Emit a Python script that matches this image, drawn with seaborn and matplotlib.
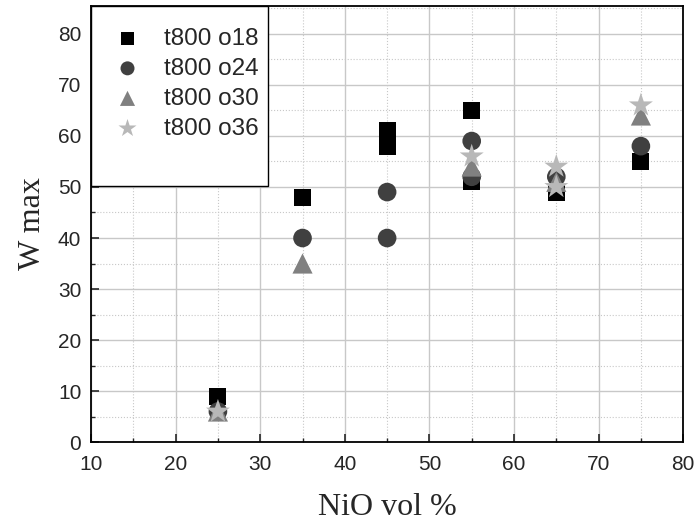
import matplotlib
matplotlib.use("Agg")
import matplotlib.pyplot as plt
import matplotlib.ticker as mtick
from matplotlib.patches import Rectangle
import seaborn as sns
import pandas as pd

# Data
x_o18 = [25, 35, 45, 45, 55, 55, 65, 75]
y_o18 = [9, 48, 58, 61, 65, 51, 49, 55]
x_o24 = [25, 35, 45, 45, 55, 55, 65, 75]
y_o24 = [6, 40, 49, 40, 59, 52, 52, 58]
x_o30 = [25, 35, 55, 65, 75]
y_o30 = [6, 35, 54, 51, 64]
x_o36 = [25, 55, 65, 65, 75]
y_o36 = [6, 56, 54, 50, 66]

series = [
    ("t800 o18", x_o18, y_o18, "s", "#000000", 150),
    ("t800 o24", x_o24, y_o24, "o", "#404040", 180),
    ("t800 o30", x_o30, y_o30, "^", "#808080", 210),
    ("t800 o36", x_o36, y_o36, "*", "#b8b8b8", 330),
]

sns.set_style("white")
plt.rcParams['font.family'] = ['Liberation Sans', 'DejaVu Sans']
plt.rcParams['xtick.direction'] = 'in'
plt.rcParams['ytick.direction'] = 'in'

fig = plt.figure(figsize=(6.95, 5.27), dpi=100)
ax = fig.add_axes([0.131, 0.161, 0.852, 0.828])

for label, xs, ys, mk, col, sz in series:
    d = pd.DataFrame({"x": xs, "y": ys})
    sns.scatterplot(data=d, x="x", y="y", marker=mk, color=col, s=sz,
                    edgecolor="none", label=label, ax=ax, zorder=3)

ax.set_xlim(10, 80)
ax.set_ylim(0, 85.5)
ax.xaxis.set_major_locator(mtick.MultipleLocator(10))
ax.xaxis.set_minor_locator(mtick.MultipleLocator(5))
ax.yaxis.set_major_locator(mtick.MultipleLocator(10))
ax.yaxis.set_minor_locator(mtick.MultipleLocator(5))
ax.grid(which="major", color="#c8c8c8", linewidth=1.0, linestyle="-")
ax.grid(which="minor", color="#c8c8c8", linewidth=0.8, linestyle=":")
ax.set_axisbelow(True)
ax.tick_params(which="major", length=6, width=1.2, labelsize=15,
               bottom=True, left=True)
ax.tick_params(axis="x", which="major", pad=9)
ax.tick_params(axis="y", which="major", pad=7)
ax.tick_params(which="minor", length=3, width=1.0, bottom=True, left=True)
for sp in ax.spines.values():
    sp.set_color("black")
    sp.set_linewidth(1.3)

ax.set_xlabel("NiO vol %", family="Liberation Serif", fontsize=23, labelpad=14)
ax.set_ylabel("W max", family="Liberation Serif", fontsize=23, labelpad=8)

# legend box (drawn separately to match the taller frame)
box = Rectangle((0.0, 0.587), 0.299, 0.413, transform=ax.transAxes,
                facecolor="white", edgecolor="black", linewidth=1.0,
                zorder=4, clip_on=False)
ax.add_patch(box)
leg = ax.legend(loc="upper left", bbox_to_anchor=(0.0, 1.0), fontsize=17.5,
                frameon=False, borderpad=0.9, labelspacing=0.33,
                handletextpad=0.9, handlelength=1.2, borderaxespad=0,
                markerscale=0.75)
leg.set_zorder(5)

fig.savefig("out.png", dpi=100)
